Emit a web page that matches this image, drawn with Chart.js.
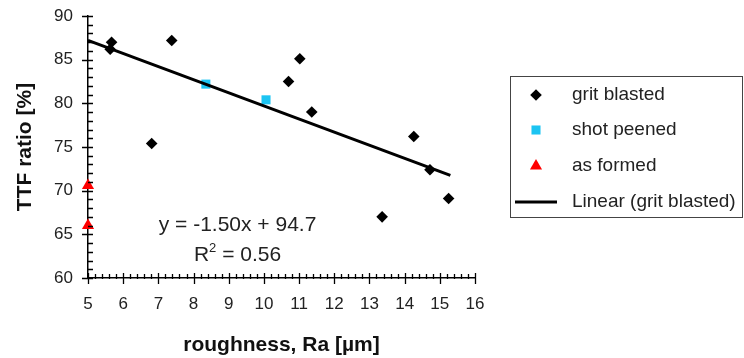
<!DOCTYPE html>
<html>
<head>
<meta charset="utf-8">
<script src="https://cdn.jsdelivr.net/npm/chart.js@4/dist/chart.umd.min.js"></script>
<style>
html, body { margin: 0; padding: 0; background: #fff; }
#chart { display: block; }
</style>
</head>
<body>
<canvas id="chart" width="744" height="358"></canvas>
<script>
// roughness Ra [um] against TTF ratio [%]
var gritRa  = [5.63, 5.67, 6.81, 7.38, 10.70, 11.02, 11.36, 13.36, 14.26, 14.72, 15.25];
var gritTtf = [86.2, 87.0, 75.4, 87.2, 82.5, 85.1, 79.0, 67.0, 76.2, 72.4, 69.1];
var peenedRa  = [8.35, 10.06];
var peenedTtf = [82.2, 80.4];
var formedRa  = [5.0, 5.0];
var formedTtf = [70.6, 66.0];

// linear fit of the grit blasted set: y = slope * x + intercept
var fitSlope = -1.50;
var fitIntercept = 94.7;
var fitR2 = 0.56;
var fitFrom = 5.0;
var fitTo = 15.3;

var seriesNames = ['grit blasted', 'shot peened', 'as formed', 'Linear (grit blasted)'];

var FONT = '"Liberation Sans", Arial, Helvetica, sans-serif';

function toPoints(xs, ys) {
    var pts = [];
    for (var i = 0; i < xs.length; i++)
        pts.push({x: xs[i], y: ys[i]});
    return pts;
}

var fitPoints = [
    {x: fitFrom, y: fitSlope * fitFrom + fitIntercept},
    {x: fitTo,   y: fitSlope * fitTo + fitIntercept}
];

// crossing tick marks, majors and minors, drawn off the scales
var axisTicks = {
    id: 'axisTicks',
    afterDraw: function(chart){
        var ctx = chart.ctx;
        var xs = chart.scales.x, ys = chart.scales.y;
        var x0 = xs.getPixelForValue(xs.min);
        var y0 = ys.getPixelForValue(ys.min);
        ctx.save();
        ctx.strokeStyle = '#000';
        ctx.lineWidth = 1.3;
        ctx.beginPath();
        var v, p;
        for (v = ys.min; v <= ys.max + 0.001; v += 1) {
            p = Math.round(ys.getPixelForValue(v)) + 0.5;
            if (Math.round(v) % 5 == 0) {
                ctx.moveTo(x0 - 6, p); ctx.lineTo(x0 + 5, p);
            } else {
                ctx.moveTo(x0, p); ctx.lineTo(x0 + 5, p);
            }
        }
        for (var i = 0; i <= (xs.max - xs.min) * 5; i++) {
            v = xs.min + i * 0.2;
            p = Math.round(xs.getPixelForValue(v)) + 0.5;
            if (i % 5 == 0) {
                ctx.moveTo(p, y0 - 5); ctx.lineTo(p, y0 + 6);
            } else {
                ctx.moveTo(p, y0 - 4); ctx.lineTo(p, y0 + 1);
            }
        }
        ctx.stroke();
        ctx.restore();
    }
};

// fit equation written inside the plot
var fitLabel = {
    id: 'fitLabel',
    afterDraw: function(chart){
        var ctx = chart.ctx;
        var cx = chart.scales.x.getPixelForValue(9.25);
        var cy = chart.scales.y.getPixelForValue(66.1);
        ctx.save();
        ctx.fillStyle = '#222';
        ctx.textBaseline = 'middle';
        ctx.textAlign = 'center';
        ctx.font = '21px ' + FONT;
        var eq = 'y = ' + fitSlope.toFixed(2) + 'x + ' + fitIntercept.toFixed(1);
        ctx.fillText(eq, cx, cy);

        // R² line with a raised 2
        var rest = ' = ' + fitR2.toFixed(2);
        var wR = ctx.measureText('R').width;
        var wRest = ctx.measureText(rest).width;
        ctx.font = '13px ' + FONT;
        var w2 = ctx.measureText('2').width;
        var left = cx - (wR + w2 + wRest) / 2;
        var ry = cy + 30;
        ctx.textAlign = 'left';
        ctx.font = '21px ' + FONT;
        ctx.fillText('R', left, ry);
        ctx.font = '13px ' + FONT;
        ctx.fillText('2', left + wR, ry - 6);
        ctx.font = '21px ' + FONT;
        ctx.fillText(rest, left + wR + w2, ry);
        ctx.restore();
    }
};

// framed legend to the right of the plot
var boxLegend = {
    id: 'boxLegend',
    afterDraw: function(chart){
        var ctx = chart.ctx;
        var bx = 510.5, by = 76.5, bw = 232, bh = 141;
        var rows = [95, 130, 166, 202];
        ctx.save();
        ctx.strokeStyle = '#444';
        ctx.lineWidth = 1;
        ctx.strokeRect(bx, by, bw, bh);
        chart.data.datasets.forEach(function(ds, i){
            var y = rows[i];
            if (ds.type == 'line') {
                ctx.strokeStyle = ds.borderColor;
                ctx.lineWidth = ds.borderWidth;
                ctx.beginPath();
                ctx.moveTo(515, y); ctx.lineTo(557, y);
                ctx.stroke();
            } else {
                ctx.fillStyle = ds.backgroundColor;
                ctx.strokeStyle = ds.backgroundColor;
                Chart.helpers.drawPoint(ctx, {
                    pointStyle: ds.pointStyle,
                    radius: ds.pointRadius,
                    rotation: 0,
                    borderWidth: 0
                }, 536, y);
            }
            ctx.fillStyle = '#222';
            ctx.font = '19px ' + FONT;
            ctx.textAlign = 'left';
            ctx.textBaseline = 'middle';
            ctx.fillText(ds.label, 572, y);
        });
        ctx.restore();
    }
};

new Chart(document.getElementById('chart'), {
    type: 'scatter',
    data: {
        datasets: [{
            label: seriesNames[0],
            data: toPoints(gritRa, gritTtf),
            pointStyle: 'rectRot',
            pointRadius: 5.8,
            backgroundColor: '#000',
            borderWidth: 0,
            clip: false,
            order: 2
        }, {
            label: seriesNames[1],
            data: toPoints(peenedRa, peenedTtf),
            pointStyle: 'rect',
            pointRadius: 6.4,
            backgroundColor: '#1cc4f2',
            borderWidth: 0,
            clip: false,
            order: 3
        }, {
            label: seriesNames[2],
            data: toPoints(formedRa, formedTtf),
            pointStyle: 'triangle',
            pointRadius: 7,
            backgroundColor: '#ff0000',
            borderWidth: 0,
            clip: false,
            order: 1
        }, {
            type: 'line',
            label: seriesNames[3],
            data: fitPoints,
            borderColor: '#000',
            borderWidth: 3,
            pointRadius: 0,
            fill: false,
            clip: false,
            order: 2
        }]
    },
    options: {
        responsive: false,
        devicePixelRatio: 1,
        animation: false,
        layout: { padding: { left: 0, top: 16, right: 269, bottom: 0 } },
        plugins: {
            legend: { display: false },
            tooltip: { enabled: false }
        },
        scales: {
            x: {
                type: 'linear',
                min: 5, max: 16,
                grid: { display: false, drawTicks: false },
                border: { display: true, color: '#000', width: 1.5 },
                ticks: { stepSize: 1, padding: 16, color: '#222', font: { family: FONT, size: 17 } },
                title: {
                    display: true,
                    text: 'roughness, Ra [µm]',
                    color: '#111',
                    padding: { top: 3, bottom: 0 },
                    font: { family: FONT, size: 21, weight: 'bold' }
                },
                afterFit: function(scale){
                    scale.height = 80;
                    scale.paddingLeft = 0;
                    scale.paddingRight = 0;
                }
            },
            y: {
                type: 'linear',
                min: 60, max: 90,
                grid: { display: false, drawTicks: false },
                border: { display: true, color: '#000', width: 1.5 },
                ticks: { stepSize: 5, padding: 15, color: '#222', font: { family: FONT, size: 17 } },
                title: {
                    display: true,
                    text: 'TTF ratio [%]',
                    color: '#111',
                    padding: { top: 13, bottom: 0 },
                    font: { family: FONT, size: 21, weight: 'bold' }
                },
                afterFit: function(scale){
                    scale.width = 88;
                    scale.paddingTop = 0;
                    scale.paddingBottom = 0;
                }
            }
        }
    },
    plugins: [axisTicks, fitLabel, boxLegend]
});
</script>
</body>
</html>
